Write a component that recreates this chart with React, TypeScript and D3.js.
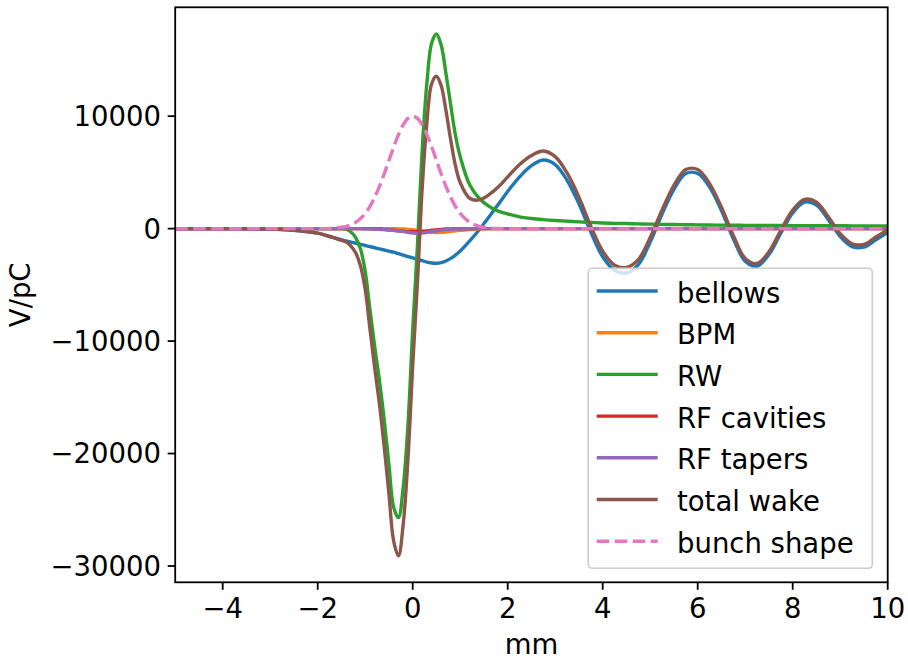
import React from "react";
import * as d3 from "d3";

const xs = [-5, -4, -3, -2.5, -2, -1.75, -1.5, -1.4, -1.3, -1.2, -1.1, -1.0, -0.9, -0.8, -0.7, -0.6, -0.5, -0.4, -0.3, -0.2, -0.1, 0, 0.1, 0.2, 0.3, 0.4, 0.5, 0.6, 0.7, 0.8, 0.9, 1.0, 1.2, 1.4, 1.6, 1.8, 2.0, 2.25, 2.5, 2.75, 3.0, 3.25, 3.5, 3.75, 4.0, 4.25, 4.5, 4.75, 5.0, 5.25, 5.5, 5.75, 6.0, 6.25, 6.5, 6.75, 7.0, 7.25, 7.5, 7.75, 8.0, 8.25, 8.5, 8.75, 9.0, 9.25, 9.5, 9.75, 10];

const bellows = [0, 0, -30, -150, -400, -700, -1000, -1100, -1200, -1300, -1400, -1500, -1600, -1700, -1800, -1900, -2000, -2100, -2230, -2350, -2480, -2600, -2730, -2850, -2980, -3060, -3080, -3020, -2880, -2650, -2350, -2000, -1100, -100, 1000, 2150, 3300, 4600, 5600, 6100, 5700, 4300, 2200, -300, -2500, -3700, -3950, -3200, -1200, 1300, 3500, 4900, 4900, 3700, 1600, -900, -2900, -3350, -2300, -400, 1400, 2350, 2100, 800, -700, -1600, -1650, -1000, -350];

const bpm = [0, 0, 0, 0, 0, 0, 0, 0, 0, 0, 0, 0, 0, 0, 0, 0, 0, -10, -20, -40, -70, -100, -170, -250, -300, -330, -340, -330, -300, -250, -200, -150, -80, -30, 0, 0, 0, 0, 0, 0, 0, 0, 0, 0, 0, 0, 0, 0, 0, 0, 0, 0, 0, 0, 0, 0, 0, 0, 0, 0, 0, 0, 0, 0, 0, 0, 0, 0, 0];

const rw = [0, 0, 0, 0, 0, 0, 0, -50, -300, -800, -1800, -3800, -7200, -10500, -13500, -17000, -21000, -24800, -25700, -23000, -17500, -9000, -1500, 7000, 13000, 16500, 17300, 16300, 13800, 11000, 8300, 6400, 3900, 2700, 2000, 1550, 1300, 1050, 900, 800, 720, 660, 600, 550, 500, 470, 450, 420, 400, 380, 360, 345, 330, 320, 310, 300, 290, 285, 280, 275, 270, 265, 260, 255, 250, 248, 245, 242, 240];

const rfCavities = [0, 0, 0, 0, 0, 0, 0, 0, 0, 0, 0, 0, 0, -20, -40, -70, -110, -150, -200, -240, -270, -280, -270, -240, -200, -150, -110, -70, -40, -20, 0, 0, 0, 0, 0, 0, 0, 0, 0, 0, 0, 0, 0, 0, 0, 0, 0, 0, 0, 0, 0, 0, 0, 0, 0, 0, 0, 0, 0, 0, 0, 0, 0, 0, 0, 0, 0, 0, 0];

const rfTapers = [0, 0, 0, 0, 0, 0, 0, 0, 0, 0, 0, -20, -30, -50, -70, -90, -120, -160, -200, -250, -320, -380, -420, -400, -330, -250, -190, -130, -90, -60, -40, -20, -10, 0, 0, 0, 0, 0, 0, 0, 0, 0, 0, 0, 0, 0, 0, 0, 0, 0, 0, 0, 0, 0, 0, 0, 0, 0, 0, 0, 0, 0, 0, 0, 0, 0, 0, 0, 0];

const totalWake = [0, 0, -30, -150, -400, -700, -1050, -1200, -1550, -2150, -3300, -5400, -8900, -12400, -15600, -19400, -23600, -27800, -29100, -26300, -20500, -12200, -4800, 3600, 9500, 12900, 13550, 12700, 10500, 7900, 5600, 4100, 2700, 2550, 3000, 3700, 4600, 5700, 6500, 6900, 6400, 4950, 2800, 200, -2000, -3250, -3450, -2750, -800, 1650, 3850, 5250, 5250, 4000, 1900, -600, -2650, -3100, -2050, -150, 1650, 2600, 2350, 1050, -450, -1350, -1400, -750, -100];

const bunchShape = [0, 0, 0, 0, 0, 20, 120, 200, 340, 560, 890, 1350, 1980, 2780, 3750, 4870, 6070, 7260, 8350, 9230, 9800, 10000, 9800, 9230, 8350, 7260, 6070, 4870, 3750, 2780, 1980, 1350, 560, 200, 60, 10, 0, 0, 0, 0, 0, 0, 0, 0, 0, 0, 0, 0, 0, 0, 0, 0, 0, 0, 0, 0, 0, 0, 0, 0, 0, 0, 0, 0, 0, 0, 0, 0, 0];

const seriesNames = ["bellows", "BPM", "RW", "RF cavities", "RF tapers", "total wake", "bunch shape"];
const seriesData = [bellows, bpm, rw, rfCavities, rfTapers, totalWake, bunchShape];
const seriesColors = ["#1f77b4", "#ff7f0e", "#2ca02c", "#d62728", "#9467bd", "#8c564b", "#e377c2"];
const seriesDashed = [false, false, false, false, false, false, true];

const xTicks = [-4, -2, 0, 2, 4, 6, 8, 10];
const yTicks = [-30000, -20000, -10000, 0, 10000];
const xDomain = [-5, 10];
const yDomain = [-31450, 19680];

const W = 908;
const H = 661;
const plot = { left: 175.2, right: 887.7, top: 7.3, bottom: 582.3 };
const FONT = "'DejaVu Sans', sans-serif";
const FS = 27.5;
const LW = 3.4;

const fmt = (v: number) => (v < 0 ? "\u2212" + Math.abs(v) : String(v));

export default function App() {
  const x = d3.scaleLinear().domain(xDomain).range([plot.left, plot.right]);
  const y = d3.scaleLinear().domain(yDomain).range([plot.bottom, plot.top]);
  const line = d3
    .line<[number, number]>()
    .x((d) => x(d[0]))
    .y((d) => y(d[1]))
    .curve(d3.curveCatmullRom.alpha(0.5));

  const legend = { x: 588.3, y: 268.3, w: 284, h: 300 };
  const rowY = (i: number) => 291 + i * 41.7;

  return (
    <div style={{ position: "absolute", left: 0, top: 0 }}>
      <svg width={W} height={H} style={{ display: "block", background: "#fff" }}>
        <defs>
          <clipPath id="plotclip">
            <rect x={plot.left} y={plot.top} width={plot.right - plot.left} height={plot.bottom - plot.top} />
          </clipPath>
        </defs>
        <rect x={0} y={0} width={W} height={H} fill="#fff" />
        <g clipPath="url(#plotclip)">
          {seriesData.map((s, i) => (
            <path
              key={seriesNames[i]}
              d={line(xs.map((xv, j) => [xv, s[j]] as [number, number])) || ""}
              fill="none"
              stroke={seriesColors[i]}
              strokeWidth={LW}
              strokeDasharray={seriesDashed[i] ? "12.6,5.4" : undefined}
              strokeLinejoin="round"
              strokeLinecap={seriesDashed[i] ? "butt" : "square"}
            />
          ))}
        </g>
        <rect
          x={plot.left}
          y={plot.top}
          width={plot.right - plot.left}
          height={plot.bottom - plot.top}
          fill="none"
          stroke="#000"
          strokeWidth={1.8}
        />
        {xTicks.map((t) => (
          <g key={"xt" + t}>
            <line x1={x(t)} x2={x(t)} y1={plot.bottom} y2={plot.bottom + 7.5} stroke="#000" strokeWidth={1.8} />
            <text x={x(t)} y={618.3} textAnchor="middle" fontFamily={FONT} fontSize={FS} fill="#000">
              {fmt(t)}
            </text>
          </g>
        ))}
        {yTicks.map((t) => (
          <g key={"yt" + t}>
            <line x1={plot.left - 7.5} x2={plot.left} y1={y(t)} y2={y(t)} stroke="#000" strokeWidth={1.8} />
            <text x={161} y={y(t)} dy="0.36em" textAnchor="end" fontFamily={FONT} fontSize={FS} fill="#000">
              {fmt(t)}
            </text>
          </g>
        ))}
        <text x={(plot.left + plot.right) / 2} y={654} textAnchor="middle" fontFamily={FONT} fontSize={FS} fill="#000">
          mm
        </text>
        <text
          transform={`translate(30, ${(plot.top + plot.bottom) / 2}) rotate(-90)`}
          textAnchor="middle"
          fontFamily={FONT}
          fontSize={FS}
          fill="#000"
        >
          V/pC
        </text>
        <rect
          x={legend.x}
          y={legend.y}
          width={legend.w}
          height={legend.h}
          rx={4}
          fill="#fff"
          fillOpacity={0.8}
          stroke="#cccccc"
          strokeWidth={1.6}
        />
        {seriesNames.map((n, i) => (
          <g key={"lg" + n}>
            <line
              x1={596.7}
              x2={657.7}
              y1={rowY(i)}
              y2={rowY(i)}
              stroke={seriesColors[i]}
              strokeWidth={LW}
              strokeDasharray={seriesDashed[i] ? "12.6,5.4" : undefined}
            />
            <text x={677} y={rowY(i) + 11.6} fontFamily={FONT} fontSize={FS} fill="#000">
              {n}
            </text>
          </g>
        ))}
      </svg>
    </div>
  );
}
